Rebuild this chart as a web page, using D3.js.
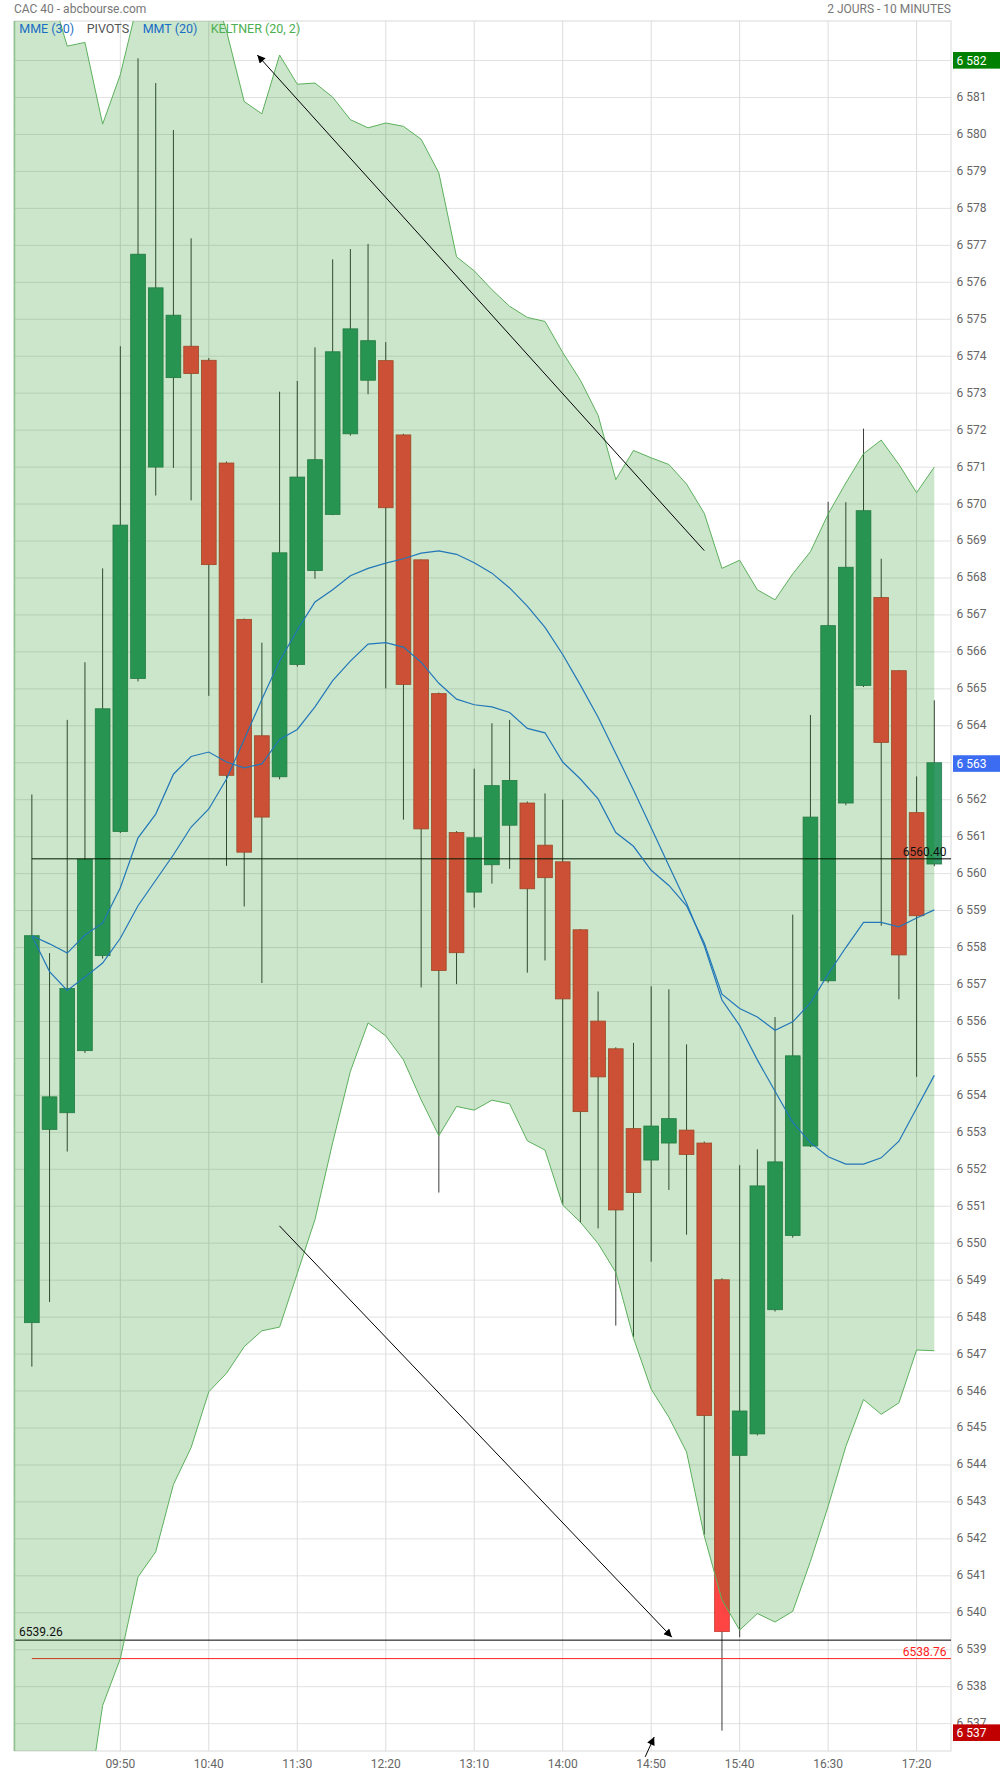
<!DOCTYPE html>
<html><head><meta charset="utf-8">
<script src="https://cdn.jsdelivr.net/npm/d3@7/dist/d3.min.js"></script>
<style>body{margin:0;background:#fff;} text{font-family:Roboto,"Noto Sans",sans-serif;}</style>
</head><body><svg id="c" width="1000" height="1774"></svg>
<script>
// ---------- DATA ----------
const times = ["09:00","09:10","09:20","09:30","09:40","09:50","10:00","10:10","10:20","10:30",
"10:40","10:50","11:00","11:10","11:20","11:30","11:40","11:50","12:00","12:10",
"12:20","12:30","12:40","12:50","13:00","13:10","13:20","13:30","13:40","13:50",
"14:00","14:10","14:20","14:30","14:40","14:50","15:00","15:10","15:20","15:30",
"15:40","15:50","16:00","16:10","16:20","16:30","16:40","16:50","17:00","17:10","17:20","17:30"];
const opens  = [6547.85,6553.08,6553.53,6555.21,6557.78,6561.14,6565.28,6571.00,6573.42,6574.27,
6573.89,6571.11,6566.88,6563.73,6562.62,6565.66,6568.20,6569.72,6571.90,6573.35,
6573.88,6571.87,6568.49,6564.87,6561.11,6559.50,6560.24,6561.31,6561.91,6560.77,
6560.32,6558.48,6556.01,6555.26,6553.10,6552.25,6552.71,6553.06,6552.71,6549.01,
6544.26,6544.84,6548.20,6550.21,6552.63,6557.10,6561.91,6565.09,6567.47,6565.49,6561.65,6560.26];
const highs  = [6562.14,6557.85,6564.16,6565.72,6568.26,6574.27,6582.06,6581.39,6580.12,6577.19,
6573.95,6571.15,6566.90,6566.25,6573.04,6573.33,6574.24,6576.62,6576.90,6577.04,
6574.38,6571.90,6568.50,6564.90,6561.15,6562.84,6564.07,6564.16,6561.95,6562.17,
6562.00,6558.50,6556.81,6555.30,6555.42,6556.95,6556.87,6555.38,6552.75,6549.05,
6552.11,6552.54,6556.12,6558.89,6564.29,6570.06,6570.05,6572.04,6568.52,6565.50,6562.63,6564.69];
const lows   = [6546.66,6548.41,6552.48,6555.15,6557.70,6561.10,6565.20,6570.23,6570.98,6570.10,
6564.81,6560.21,6559.11,6557.04,6562.55,6565.60,6567.98,6569.70,6571.85,6572.97,
6565.01,6561.46,6556.92,6551.37,6557.01,6559.08,6559.73,6560.13,6557.32,6557.65,
6551.03,6550.55,6550.40,6547.77,6547.46,6549.50,6551.44,6550.23,6542.11,6536.81,
6539.34,6544.80,6548.15,6550.15,6552.60,6557.05,6561.85,6565.05,6558.59,6556.60,6554.50,6560.20];
const closes = [6558.32,6553.96,6556.89,6560.39,6564.46,6569.43,6576.76,6575.85,6575.11,6573.53,
6568.36,6562.66,6560.58,6561.53,6568.68,6570.73,6571.20,6574.12,6574.74,6574.42,
6569.90,6565.12,6561.21,6557.38,6557.86,6560.97,6562.38,6562.52,6559.59,6559.89,
6556.61,6553.56,6554.50,6550.90,6551.37,6553.17,6553.37,6552.40,6545.34,6539.49,
6545.46,6551.55,6552.20,6555.07,6561.53,6566.71,6568.29,6569.82,6563.55,6557.80,6558.86,6563.00];
// Keltner (20, 2) bands, first value belongs to the previous candle (before 09:00)
const keltnerUpper = [6585.0,6585.2,6584.0,6582.39,6582.49,6580.28,6581.62,6583.6,6585.5,6586.0,6585.5,
6584.3,6582.8,6580.89,6580.56,6582.15,6581.36,6581.39,6581.01,6580.40,6580.18,
6580.31,6580.22,6579.87,6578.96,6576.69,6576.31,6575.80,6575.35,6575.05,6574.94,
6574.10,6573.35,6572.40,6570.66,6571.45,6571.25,6571.07,6570.54,6569.75,6568.26,
6568.48,6567.68,6567.41,6568.11,6568.71,6569.73,6570.57,6571.36,6571.73,6571.07,6570.31,6571.00];
const keltnerLower = [6531.5,6532.0,6532.5,6533.0,6534.3,6537.49,6538.76,6540.97,6541.65,6543.47,6544.47,
6545.98,6546.48,6547.20,6547.63,6547.73,6549.18,6550.64,6552.72,6554.65,6555.96,
6555.61,6554.96,6553.88,6552.91,6553.70,6553.60,6553.87,6553.77,6552.77,6552.52,
6551.03,6550.57,6549.99,6549.21,6547.43,6546.05,6545.29,6544.35,6542.08,6540.35,
6539.53,6539.98,6539.75,6540.04,6541.39,6542.88,6544.50,6545.77,6545.37,6545.68,6547.11,6547.09];
const mmt20 = [6558.32,6558.10,6557.85,6558.34,6558.66,6559.62,6560.97,6561.61,6562.69,6563.17,
6563.29,6563.02,6562.86,6562.97,6563.63,6563.90,6564.51,6565.22,6565.75,6566.21,
6566.25,6566.13,6565.72,6565.15,6564.72,6564.57,6564.51,6564.36,6563.93,6563.81,
6563.02,6562.56,6562.02,6561.11,6560.74,6560.09,6559.68,6559.13,6558.12,6556.74,
6556.35,6556.12,6555.76,6555.99,6556.50,6557.28,6558.00,6558.68,6558.68,6558.56,6558.80,6559.02];
const mme30 = [6558.32,6557.35,6556.84,6557.20,6557.58,6558.25,6559.13,6559.82,6560.51,6561.26,
6561.75,6562.56,6563.63,6564.72,6565.75,6566.59,6567.35,6567.68,6568.06,6568.26,
6568.40,6568.52,6568.67,6568.73,6568.64,6568.41,6568.13,6567.73,6567.24,6566.66,
6565.93,6565.10,6564.23,6563.25,6562.26,6561.24,6560.21,6559.20,6558.05,6556.58,
6555.89,6554.96,6554.11,6553.27,6552.72,6552.34,6552.14,6552.14,6552.31,6552.76,6553.65,6554.54];
const xTickLabels = ["09:50","10:40","11:30","12:20","13:10","14:00","14:50","15:40","16:30","17:20"];
const yTickValues = d3.range(6537, 6583);
const levelValues = [6560.40, 6539.26, 6538.76];
const levelLabels = ["6560.40", "6539.26", "6538.76"];
const legendItems = ["MME (30)", "PIVOTS", "MMT (20)", "KELTNER (20, 2)"];
// arrows: [index, price] -> [index, price] (head at second point)
const arrows = [[[38.0,6568.74],[12.74,6582.15]], [[13.99,6550.47],[36.17,6539.34]], [[34.66,6536.1],[35.17,6536.64]]];

// ---------- LAYOUT ----------
const L = 14, R = 951, T = 21, B = 1751;
const svg = d3.select("#c");
const x = d3.scaleLinear().domain([-1, 51]).range([14.16, 934.3]);
const y = d3.scaleLinear().domain([6536.26, 6583.07]).range([B, T]);
const bw = 14.7;
const fmt = v => { const s = String(Math.round(v)); return s.slice(0, s.length - 3) + " " + s.slice(-3); };

svg.append("defs").append("clipPath").attr("id","clip").append("rect")
  .attr("x", L).attr("y", T).attr("width", R - L).attr("height", B - T);
svg.select("defs").append("marker").attr("id","ah").attr("viewBox","0 0 10 10")
  .attr("refX",10).attr("refY",5).attr("markerWidth",10).attr("markerHeight",8)
  .attr("markerUnits","userSpaceOnUse").attr("orient","auto")
  .append("path").attr("d","M0,0L10,5L0,10z").attr("fill","#000");

// grid
const grid = svg.append("g");
grid.selectAll("line.h").data(yTickValues).join("line")
  .attr("x1", L).attr("x2", R).attr("y1", d => y(d)).attr("y2", d => y(d))
  .attr("stroke", "#e2e2e2").attr("stroke-width", 1);
const tickIdx = xTickLabels.map(t => times.indexOf(t));
grid.selectAll("line.v").data(tickIdx).join("line")
  .attr("x1", d => x(d)).attr("x2", d => x(d)).attr("y1", T).attr("y2", B)
  .attr("stroke", "#dcdcdc").attr("stroke-width", 1);
svg.append("rect").attr("x", L).attr("y", T).attr("width", R - L).attr("height", B - T)
  .attr("fill", "none").attr("stroke", "#dadada");

// candles
const idx = d3.range(times.length);
const cg = svg.append("g").attr("clip-path", "url(#clip)");
cg.selectAll("line.w").data(idx).join("line")
  .attr("x1", i => x(i)).attr("x2", i => x(i))
  .attr("y1", i => y(highs[i])).attr("y2", i => y(lows[i]))
  .attr("stroke", "#3a3f3a").attr("stroke-width", 1);
cg.selectAll("rect.b").data(idx).join("rect")
  .attr("x", i => x(i) - bw / 2).attr("width", bw)
  .attr("y", i => y(Math.max(opens[i], closes[i])))
  .attr("height", i => Math.max(1, Math.abs(y(opens[i]) - y(closes[i]))))
  .attr("fill", i => closes[i] >= opens[i] ? "#339966" : "#ff4444")
  .attr("stroke", i => closes[i] >= opens[i] ? "#2a7a50" : "#c43a2e").attr("stroke-width", 0.8);

// level lines
const lg = svg.append("g");
lg.append("line").attr("x1", x(0)).attr("x2", R).attr("y1", y(levelValues[0])).attr("y2", y(levelValues[0]))
  .attr("stroke", "#000").attr("stroke-width", 1);
lg.append("line").attr("x1", L).attr("x2", R).attr("y1", y(levelValues[1])).attr("y2", y(levelValues[1]))
  .attr("stroke", "#000").attr("stroke-width", 1);
lg.append("line").attr("x1", x(0)).attr("x2", R).attr("y1", y(levelValues[2])).attr("y2", y(levelValues[2]))
  .attr("stroke", "#ff2020").attr("stroke-width", 1);

// keltner band (over candles, translucent)
const bIdx = d3.range(keltnerUpper.length);
const area = d3.area().x(j => x(j - 1)).y0(j => y(keltnerLower[j])).y1(j => y(keltnerUpper[j]));
const bandG = svg.append("g").attr("clip-path", "url(#clip)");
bandG.append("path").datum(bIdx).attr("d", area).attr("fill", "rgba(0,128,0,0.2)");
bandG.append("path").datum(bIdx).attr("d", d3.line().x(j => x(j - 1)).y(j => y(keltnerUpper[j])))
  .attr("fill", "none").attr("stroke", "#5cb05c").attr("stroke-width", 1);
bandG.append("path").datum(bIdx).attr("d", d3.line().x(j => x(j - 1)).y(j => y(keltnerLower[j])))
  .attr("fill", "none").attr("stroke", "#5cb05c").attr("stroke-width", 1);
svg.append("line").attr("x1", L + 0.5).attr("x2", L + 0.5).attr("y1", T).attr("y2", B)
  .attr("stroke", "#8cc48c").attr("stroke-width", 1.5);

// moving averages
const maLine = arr => d3.line().x((d, i) => x(i)).y(d => y(d))(arr);
[mme30, mmt20].forEach(arr => {
  svg.append("path").attr("d", maLine(arr)).attr("fill", "none")
    .attr("stroke", "#2277b8").attr("stroke-width", 1.2).attr("clip-path", "url(#clip)");
});

// arrows
svg.selectAll("line.arr").data(arrows).join("line")
  .attr("x1", a => x(a[0][0])).attr("y1", a => y(a[0][1]))
  .attr("x2", a => x(a[1][0])).attr("y2", a => y(a[1][1]))
  .attr("stroke", "#000").attr("stroke-width", 1).attr("marker-end", "url(#ah)");

// level labels
svg.append("text").attr("x", 946.5).attr("y", y(levelValues[0]) - 2.5).attr("text-anchor", "end")
  .attr("font-size", 12).attr("fill", "#111").text(levelLabels[0]);
svg.append("text").attr("x", 19).attr("y", y(levelValues[1]) - 4).attr("text-anchor", "start")
  .attr("font-size", 12).attr("fill", "#111").text(levelLabels[1]);
svg.append("text").attr("x", 946.5).attr("y", y(levelValues[2]) - 2.5).attr("text-anchor", "end")
  .attr("font-size", 12).attr("fill", "#ff2020").text(levelLabels[2]);

// right axis labels
svg.selectAll("text.yl").data(yTickValues).join("text")
  .attr("x", 956.5).attr("y", d => y(d) + 3.5).attr("font-size", 12).attr("fill", "#666").text(fmt);

// x axis labels
svg.selectAll("text.xl").data(xTickLabels).join("text")
  .attr("x", (t) => x(times.indexOf(t))).attr("y", 1768).attr("text-anchor", "middle")
  .attr("font-size", 12).attr("fill", "#666").text(t => t);

// value boxes
const boxes = [[d3.max(highs), "#008000"], [closes[closes.length - 1], "#3b6cf2"], [d3.min(lows), "#c00000"]];
boxes.forEach(([v, col], k) => {
  const cy = y(v) + (k === 1 ? 0.8 : 2);
  svg.append("rect").attr("x", 953).attr("y", cy - 8.3).attr("width", 47).attr("height", 16.6).attr("fill", col);
  svg.append("text").attr("x", 956.5).attr("y", cy + 4.2).attr("font-size", 12).attr("fill", "#fff").text(fmt(v));
});

// header
svg.append("text").attr("x", 14).attr("y", 12.5).attr("font-size", 12).attr("fill", "#777").text("CAC 40 - abcbourse.com");
svg.append("text").attr("x", 951).attr("y", 12.5).attr("font-size", 12).attr("fill", "#777").attr("text-anchor", "end").text("2 JOURS - 10 MINUTES");

// legend
const legX = [19.3, 86.7, 142.7, 210.7];
const legCol = ["#1a6dc4", "#555", "#1a6dc4", "#4caf50"];
legendItems.forEach((t, k) => {
  svg.append("text").attr("x", legX[k]).attr("y", 33.3).attr("font-size", 12.5).attr("fill", legCol[k]).text(t);
});
</script></body></html>
